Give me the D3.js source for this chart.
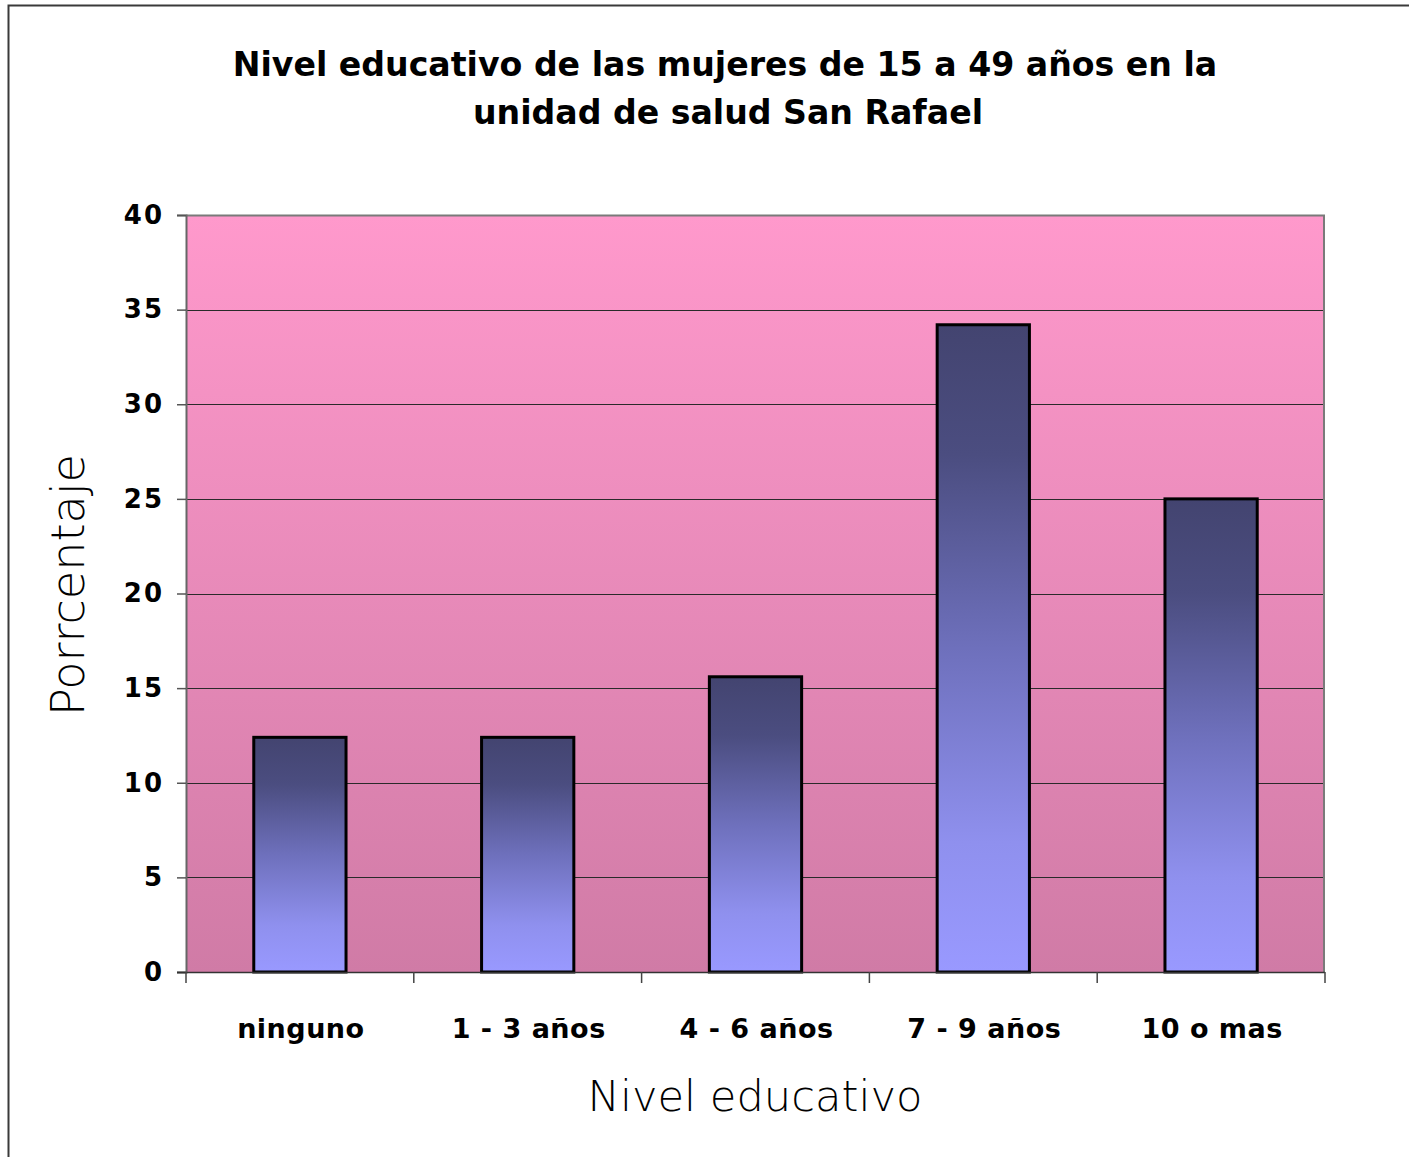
<!DOCTYPE html>
<html>
<head>
<meta charset="utf-8">
<script src="https://cdn.jsdelivr.net/npm/d3@7"></script>
<style>
  html, body { margin: 0; padding: 0; background: #fff; }
  svg { display: block; }
</style>
</head>
<body>
<svg id="chart" width="1409" height="1157"></svg>
<script>
// Education level of women aged 15-49, San Rafael health unit (%)
const categories = ["ninguno", "1 - 3 años", "4 - 6 años", "7 - 9 años", "10 o mas"];
const values = [12.4, 12.4, 15.6, 34.2, 25.0];
const yTicks = [0, 5, 10, 15, 20, 25, 30, 35, 40];
const titleLines = ["Nivel educativo de las mujeres de 15 a 49 años en la", "unidad de salud San Rafael"];
const xTitle = "Nivel educativo";
const yTitle = "Porrcentaje";

const svg = d3.select("#chart");
const W = 1409, H = 1157;
const plot = { left: 186, right: 1325, top: 215, bottom: 972 };
const FONT = "'DejaVu Sans', Verdana, sans-serif";

// Outer chart frame
svg.append("rect")
  .attr("x", 8.5).attr("y", 5.5)
  .attr("width", W + 20).attr("height", H + 20)
  .attr("fill", "#fff").attr("stroke", "#3a3a3a").attr("stroke-width", 2);

const defs = svg.append("defs");
const bg = defs.append("linearGradient").attr("id", "bgGrad")
  .attr("x1", 0).attr("y1", 0).attr("x2", 0).attr("y2", 1);
bg.append("stop").attr("offset", "0%").attr("stop-color", "#FF99CC");
bg.append("stop").attr("offset", "100%").attr("stop-color", "#D07BA6");

const bar = defs.append("linearGradient").attr("id", "barGrad")
  .attr("x1", 0).attr("y1", 0).attr("x2", 0).attr("y2", 1);
bar.append("stop").attr("offset", "0%").attr("stop-color", "#434470");
bar.append("stop").attr("offset", "20%").attr("stop-color", "#4B4D80");
bar.append("stop").attr("offset", "50%").attr("stop-color", "#6E70BC");
bar.append("stop").attr("offset", "80%").attr("stop-color", "#8F90EE");
bar.append("stop").attr("offset", "100%").attr("stop-color", "#9999FF");

const x = d3.scaleBand().domain(categories).range([plot.left, plot.right]).paddingInner(0.595).paddingOuter(0.2975);
const y = d3.scaleLinear().domain([0, 40]).range([plot.bottom, plot.top]);

// Plot area background
svg.append("rect")
  .attr("x", plot.left).attr("y", plot.top)
  .attr("width", plot.right - plot.left).attr("height", plot.bottom - plot.top)
  .attr("fill", "url(#bgGrad)");

// Horizontal gridlines
svg.append("g").selectAll("line").data(yTicks.filter(d => d > 0 && d < 40)).join("line")
  .attr("x1", plot.left).attr("x2", plot.right)
  .attr("y1", d => Math.round(y(d)) + 0.5).attr("y2", d => Math.round(y(d)) + 0.5)
  .attr("stroke", "#2a2a2a").attr("stroke-width", 1);

// Plot border (top and right)
svg.append("path")
  .attr("d", `M${plot.left},${plot.top + 0.5}H${plot.right - 1}V${plot.bottom}`)
  .attr("fill", "none").attr("stroke", "#7a7a7a").attr("stroke-width", 2);

// Bars
svg.append("g").selectAll("rect").data(values).join("rect")
  .attr("x", (d, i) => x(categories[i]))
  .attr("y", d => y(d))
  .attr("width", x.bandwidth())
  .attr("height", d => y(0) - y(d))
  .attr("fill", "url(#barGrad)")
  .attr("stroke", "#000").attr("stroke-width", 3);

// Y axis
const yAxis = d3.axisLeft(y).tickValues(yTicks).tickSize(9).tickPadding(13).tickFormat(d3.format("d"));
const gy = svg.append("g").attr("transform", `translate(${plot.left},0)`).call(yAxis);
gy.select(".domain").attr("stroke", "#666").attr("stroke-width", 2);
gy.selectAll(".tick line").attr("stroke", "#555").attr("stroke-width", 1.5);
gy.selectAll("text")
  .attr("font-family", FONT).attr("font-weight", "bold")
  .attr("font-size", 26).attr("letter-spacing", 2).attr("fill", "#000");

// X axis with ticks at category boundaries
const gx = svg.append("g").attr("transform", `translate(0,${plot.bottom})`);
gx.append("line").attr("x1", plot.left - 9).attr("x2", plot.right)
  .attr("y1", 0.5).attr("y2", 0.5).attr("stroke", "#333").attr("stroke-width", 1.5);
const step = x.step();
const bounds = d3.range(categories.length + 1).map(i => plot.left + i * step);
gx.selectAll(".xt").data(bounds).join("line").attr("class", "xt")
  .attr("x1", d => d).attr("x2", d => d).attr("y1", 0).attr("y2", 11)
  .attr("stroke", "#444").attr("stroke-width", 1.5);
gx.selectAll("text").data(categories).join("text")
  .attr("x", d => x(d) + x.bandwidth() / 2 + 1)
  .attr("y", 66)
  .attr("text-anchor", "middle")
  .attr("font-family", FONT).attr("font-weight", "bold")
  .attr("font-size", 27).attr("letter-spacing", 0.5).attr("fill", "#000")
  .text(d => d);

// Title
function fitWidth(sel, target) {
  const w = sel.node().getComputedTextLength();
  const fs = parseFloat(sel.attr("font-size"));
  sel.attr("font-size", fs * target / w);
}
const t1 = svg.append("text").attr("x", 725).attr("y", 76).attr("text-anchor", "middle")
  .attr("font-family", FONT).attr("font-weight", "bold")
  .attr("font-size", 29).attr("fill", "#000").text(titleLines[0]);
fitWidth(t1, 985);
svg.append("text").attr("x", 728).attr("y", 124).attr("text-anchor", "middle")
  .attr("font-family", FONT).attr("font-weight", "bold")
  .attr("font-size", t1.attr("font-size")).attr("fill", "#000").text(titleLines[1]);

// Axis titles
const xt = svg.append("text").attr("x", 755).attr("y", 1111).attr("text-anchor", "middle")
  .attr("font-family", FONT).attr("font-weight", 300)
  .attr("font-size", 36).attr("fill", "#000").text(xTitle);
fitWidth(xt, 335);
const yt = svg.append("text").attr("transform", "translate(84,585) rotate(-90)").attr("text-anchor", "middle")
  .attr("font-family", FONT).attr("font-weight", 300)
  .attr("font-size", 36).attr("fill", "#000").text(yTitle);
fitWidth(yt, 262);
</script>
</body>
</html>
